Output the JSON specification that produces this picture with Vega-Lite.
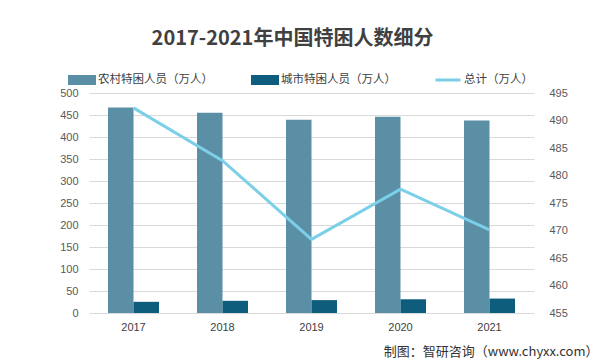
{
  "$schema": "https://vega.github.io/schema/vega-lite/v6.json",
  "width": 445,
  "height": 220,
  "autosize": {"type": "none"},
  "padding": {"left": 89, "top": 93, "right": 72, "bottom": 51},
  "background": "white",
  "config": {
    "font": "Noto Sans CJK SC",
    "view": {"stroke": null}
  },
  "title": {
    "text": "2017-2021年中国特困人数细分",
    "font": "Noto Sans CJK SC",
    "fontSize": 20,
    "fontWeight": "bold",
    "color": "#404040",
    "anchor": "middle",
    "offset": 17,
    "dx": -19
  },
  "data": {
    "values": [
      {"year": "2017", "series": "农村特困人员（万人）", "value": 466.9},
      {"year": "2018", "series": "农村特困人员（万人）", "value": 455.0},
      {"year": "2019", "series": "农村特困人员（万人）", "value": 439.1},
      {"year": "2020", "series": "农村特困人员（万人）", "value": 446.3},
      {"year": "2021", "series": "农村特困人员（万人）", "value": 437.3},
      {"year": "2017", "series": "城市特困人员（万人）", "value": 25.4},
      {"year": "2018", "series": "城市特困人员（万人）", "value": 27.7},
      {"year": "2019", "series": "城市特困人员（万人）", "value": 29.3},
      {"year": "2020", "series": "城市特困人员（万人）", "value": 31.2},
      {"year": "2021", "series": "城市特困人员（万人）", "value": 32.8},
      {"year": "2017", "series": "总计（万人）", "value": 492.3},
      {"year": "2018", "series": "总计（万人）", "value": 482.7},
      {"year": "2019", "series": "总计（万人）", "value": 468.4},
      {"year": "2020", "series": "总计（万人）", "value": 477.5},
      {"year": "2021", "series": "总计（万人）", "value": 470.1}
    ]
  },
  "encoding": {
    "x": {
      "field": "year",
      "type": "ordinal",
      "scale": {"paddingInner": 0.427, "paddingOuter": 0.2135},
      "axis": {
        "labelAngle": 0,
        "domain": false,
        "ticks": false,
        "labelPadding": 8,
        "labelFont": "Liberation Sans",
        "labelFontSize": 11,
        "labelColor": "#404040",
        "title": "制图：智研咨询（www.chyxx.com）",
        "titleAnchor": "end",
        "titleAlign": "right",
        "titleBaseline": "middle",
        "titleX": 509,
        "titleY": 38,
        "titleFontSize": 13,
        "titleFontWeight": "normal",
        "titleColor": "#333333",
        "titleFont": "Noto Sans CJK SC"
      }
    },
    "color": {
      "field": "series",
      "type": "nominal",
      "scale": {
        "domain": ["农村特困人员（万人）", "城市特困人员（万人）", "总计（万人）"],
        "range": ["#5b8fa5", "#0f5d7d", "#7ccfe8"]
      },
      "legend": {
        "orient": "none",
        "legendX": -21,
        "legendY": -27,
        "direction": "horizontal",
        "title": null,
        "columnPadding": 33,
        "gridAlign": "none",
        "labelFontSize": 11.5,
        "labelColor": "#404040",
        "labelOffset": 2,
        "symbolSize": 625,
        "symbolOpacity": 1,
        "encode": {
          "symbols": {
            "update": {
              "shape": {"signal": "datum.value === '总计（万人）' ? 'M-1,0H1' : 'M-1,-0.28H1V0.28H-1Z'"},
              "fill": {"signal": "datum.value === '总计（万人）' ? 'transparent' : (datum.value === '城市特困人员（万人）' ? '#0f5d7d' : '#5b8fa5')"},
              "stroke": {"signal": "datum.value === '总计（万人）' ? '#7ccfe8' : 'transparent'"},
              "strokeWidth": {"value": 3}
            }
          }
        }
      }
    }
  },
  "layer": [
    {
      "transform": [{"filter": "datum.series !== '总计（万人）'"}],
      "mark": {"type": "bar"},
      "encoding": {
        "xOffset": {
          "field": "series",
          "sort": ["农村特困人员（万人）", "城市特困人员（万人）"],
          "scale": {"paddingInner": 0, "paddingOuter": 0}
        },
        "y": {
          "field": "value",
          "type": "quantitative",
          "scale": {"domain": [0, 500], "nice": false},
          "axis": {
            "values": [0, 50, 100, 150, 200, 250, 300, 350, 400, 450, 500],
            "grid": true,
            "gridColor": "#d9d9d9",
            "domain": false,
            "ticks": false,
            "labelPadding": 11,
            "labelFont": "Liberation Sans",
            "labelFontSize": 11,
            "labelColor": "#595959",
            "title": null
          }
        }
      }
    },
    {
      "transform": [{"filter": "datum.series === '总计（万人）'"}],
      "mark": {"type": "line", "strokeWidth": 3},
      "encoding": {
        "y": {
          "field": "value",
          "type": "quantitative",
          "scale": {"domain": [455, 495], "nice": false, "zero": false},
          "axis": {
            "orient": "right",
            "values": [455, 460, 465, 470, 475, 480, 485, 490, 495],
            "grid": false,
            "domain": false,
            "ticks": false,
            "labelPadding": 15,
            "labelFont": "Liberation Sans",
            "labelFontSize": 11,
            "labelColor": "#595959",
            "title": null
          }
        }
      }
    }
  ],
  "resolve": {"scale": {"y": "independent"}}
}
